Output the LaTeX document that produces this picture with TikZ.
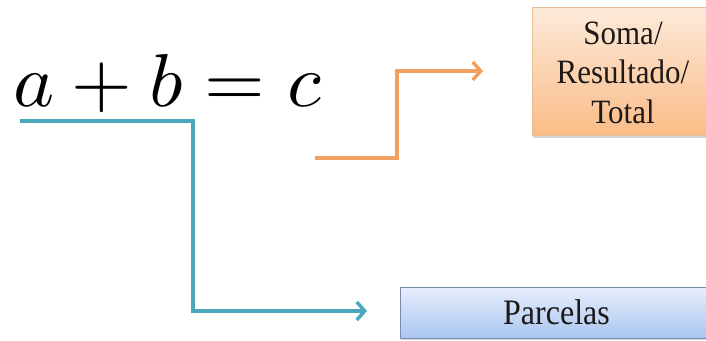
\documentclass[tikz,border=0pt]{standalone}
\usepackage[no-math]{fontspec}
\setmainfont{Liberation Serif}
\newfontfamily\boxfont{Liberation Serif}
\usetikzlibrary{arrows.meta,shadows}
\definecolor{tealline}{RGB}{74,168,190}
\definecolor{orangeline}{RGB}{241,160,95}
\definecolor{orangetop}{RGB}{253,234,218}
\definecolor{orangebot}{RGB}{250,188,135}
\definecolor{orangeedge}{RGB}{232,190,150}
\definecolor{bluetop}{RGB}{232,238,252}
\definecolor{bluebot}{RGB}{170,198,240}
\definecolor{blueedge}{RGB}{120,140,170}
\definecolor{textdark}{RGB}{30,25,25}
\tikzset{
  conn/.style={line width=3.4pt, -{Straight Barb[length=8pt,width=18pt]}},
  orangebox/.style={draw=orangeedge, line width=0.8pt, top color=orangetop, bottom color=orangebot,
    minimum width=182pt, minimum height=127pt, inner sep=0pt, align=center,
    font=\boxfont\fontsize{31}{36}\selectfont, text=textdark,
    drop shadow={opacity=0.35, shadow xshift=1pt, shadow yshift=-2.5pt}},
  bluebox/.style={draw=blueedge, line width=0.8pt, top color=bluetop, bottom color=bluebot,
    minimum width=313pt, minimum height=51pt, inner sep=0pt,
    font=\boxfont\fontsize{32}{38}\selectfont, text=textdark,
    drop shadow={opacity=0.3, shadow xshift=1pt, shadow yshift=-2pt}},
}
\begin{document}
\begin{tikzpicture}[x=1pt,y=1pt]
\useasboundingbox (0,0) rectangle (706,-340);
\clip (0,0) rectangle (706,-340);
\node[anchor=base west, inner sep=0pt] (eq) at (13,-106) {\scalebox{7.8}[7.5]{$a+b=c$}};
\node[orangebox] (soma) at (623,-71.5) {\scalebox{1}[1.1]{\begin{tabular}{@{}c@{}}\rule{0pt}{33pt}Soma/\\Resultado/\\Total\end{tabular}}};
\node[bluebox] (parc) at (556.5,-312.5) {\scalebox{1}[1.12]{Parcelas}};
\coordinate (tstart) at (20,-121);
\coordinate (tend) at (367,-311);
\coordinate (ostart) at (315,-158);
\coordinate (oend) at (483,-71);
\draw[conn, draw=tealline] (tstart) -- (193,-121) |- (tend);
\draw[conn, draw=orangeline] (ostart) -- (397,-158) |- (oend);
\end{tikzpicture}
\end{document}
